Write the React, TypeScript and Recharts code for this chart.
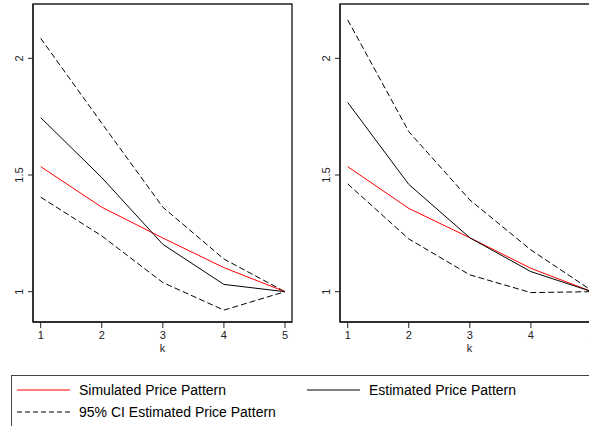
import React from 'react';
import { LineChart, Line, XAxis, YAxis, ReferenceArea } from 'recharts';

const kValues = [1, 2, 3, 4, 5];
const xTicks = [1, 2, 3, 4, 5];
const yTicks = [1, 1.5, 2];

const leftSimulated = [1.536, 1.362, 1.23, 1.103, 1.0];
const leftEstimated = [1.746, 1.489, 1.203, 1.031, 1.0];
const leftUpper = [2.086, 1.722, 1.362, 1.14, 1.0];
const leftLower = [1.405, 1.239, 1.039, 0.921, 1.0];

const rightSimulated = [1.536, 1.357, 1.231, 1.1, 1.0];
const rightEstimated = [1.811, 1.46, 1.231, 1.086, 1.0];
const rightUpper = [2.165, 1.686, 1.393, 1.179, 1.004];
const rightLower = [1.462, 1.226, 1.072, 0.996, 1.0];

const legendLabels = ['Simulated Price Pattern', 'Estimated Price Pattern', '95% CI Estimated Price Pattern'];

const FONT = '"Liberation Sans", Arial, Helvetica, sans-serif';
const AXIS = '#222';
const X_DOMAIN: [number, number] = [0.874, 5.115];
const Y_DOMAIN: [number, number] = [0.87, 2.233];

function build(sim: number[], est: number[], up: number[], lo: number[]) {
  return kValues.map((k, i) => ({ k, sim: sim[i], est: est[i], up: up[i], lo: lo[i] }));
}

const YTick = (props: any) => {
  const { x, y, payload } = props;
  return (
    <text
      x={x}
      y={y}
      transform={`rotate(-90 ${x} ${y})`}
      textAnchor="middle"
      fontSize={11}
      fontFamily={FONT}
      fill="#222"
    >
      {payload.value}
    </text>
  );
};

function Panel({ data, left }: { data: any[]; left: number }) {
  return (
    <div style={{ position: 'absolute', left, top: 0 }}>
      <LineChart width={300} height={360} data={data} margin={{ top: 4, right: 8, bottom: 0, left: 0 }}>
        <XAxis
          dataKey="k"
          type="number"
          domain={X_DOMAIN}
          ticks={xTicks}
          allowDataOverflow
          height={38}
          tickSize={6}
          tickMargin={3}
          tickLine={{ stroke: AXIS, strokeWidth: 1 }}
          axisLine={{ stroke: AXIS, strokeWidth: 1.4 }}
          tick={{ fontSize: 11, fontFamily: FONT, fill: '#222' }}
          label={{ value: 'k', position: 'insideBottom', offset: 8, fontSize: 11, fontFamily: FONT, fill: '#222' }}
        />
        <YAxis
          type="number"
          domain={Y_DOMAIN}
          ticks={yTicks}
          allowDataOverflow
          width={33}
          tickSize={5}
          tickMargin={5}
          tickLine={{ stroke: AXIS, strokeWidth: 1 }}
          axisLine={{ stroke: AXIS, strokeWidth: 1.4 }}
          tick={<YTick />}
        />
        <ReferenceArea
          x1={X_DOMAIN[0]}
          x2={X_DOMAIN[1]}
          y1={Y_DOMAIN[0]}
          y2={Y_DOMAIN[1]}
          fill="none"
          fillOpacity={0}
          stroke={AXIS}
          strokeWidth={1.4}
          ifOverflow="visible"
        />
        <Line dataKey="up" stroke="#000" strokeWidth={1} strokeDasharray="6 3" dot={false} isAnimationActive={false} />
        <Line dataKey="lo" stroke="#000" strokeWidth={1} strokeDasharray="6 3" dot={false} isAnimationActive={false} />
        <Line dataKey="sim" stroke="#ff0000" strokeWidth={1} dot={false} isAnimationActive={false} />
        <Line dataKey="est" stroke="#000" strokeWidth={1} dot={false} isAnimationActive={false} />
      </LineChart>
    </div>
  );
}

function LegendItem({ label, dashed, color, left, top }: { label: string; dashed?: boolean; color: string; left: number; top: number }) {
  return (
    <div style={{ position: 'absolute', left, top, height: 20, display: 'flex', alignItems: 'center' }}>
      <svg width={53} height={20} style={{ display: 'block' }}>
        <line x1={0} y1={10} x2={53} y2={10} stroke={color} strokeWidth={1.2} strokeDasharray={dashed ? '5 3' : undefined} />
      </svg>
      <span style={{ marginLeft: 9, fontSize: 14, fontFamily: FONT, color: '#000', whiteSpace: 'nowrap', lineHeight: '20px' }}>{label}</span>
    </div>
  );
}

export default function App() {
  const leftData = build(leftSimulated, leftEstimated, leftUpper, leftLower);
  const rightData = build(rightSimulated, rightEstimated, rightUpper, rightLower);
  return (
    <div style={{ position: 'fixed', left: 0, top: 0, width: 589, height: 426, overflow: 'hidden', background: '#fff' }}>
      <Panel data={leftData} left={0} />
      <Panel data={rightData} left={307} />
      <div style={{ position: 'absolute', left: 11, top: 375, width: 620, height: 80, border: '1px solid #444', boxSizing: 'border-box' }} />
      <LegendItem label={legendLabels[0]} color="#ff0000" left={17} top={380} />
      <LegendItem label={legendLabels[1]} color="#000" left={307} top={380} />
      <LegendItem label={legendLabels[2]} color="#000" dashed left={17} top={402} />
    </div>
  );
}
